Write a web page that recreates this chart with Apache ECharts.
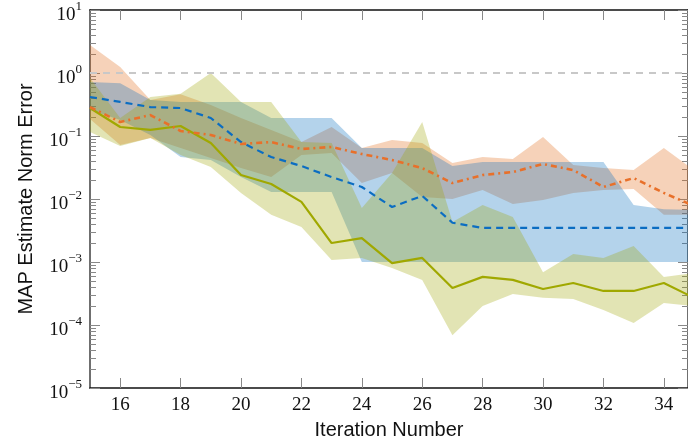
<!DOCTYPE html>
<html>
<head>
<meta charset="utf-8">
<script src="https://cdn.jsdelivr.net/npm/echarts@6/dist/echarts.min.js"></script>
<style>
  html, body { margin: 0; padding: 0; background: #fff; }
  #chart { width: 688px; height: 445px; }
</style>
</head>
<body>
<div id="chart"></div>
<script>
// Iterations on the x axis
const iterations = [15, 16, 17, 18, 19, 20, 21, 22, 23, 24, 25, 26, 27, 28, 29, 30, 31, 32, 33, 34, 35];

// Olive series (solid) with its band
const oliveMean  = [0.278, 0.139, 0.125, 0.144, 0.0775, 0.024, 0.0173, 0.009, 0.002, 0.0024, 0.00096, 0.00116, 0.000386, 0.00058, 0.00052, 0.000373, 0.000464, 0.000347, 0.000347, 0.000464, 0.00027];
const oliveUpper = [0.83, 0.193, 0.416, 0.47, 1.0, 0.347, 0.347, 0.08, 0.0775, 0.0072, 0.0259, 0.167, 0.0043, 0.008, 0.0052, 0.00069, 0.00134, 0.00116, 0.00179, 0.00058, 0.00067];
const oliveLower = [0.116, 0.0694, 0.093, 0.05, 0.0322, 0.0125, 0.0056, 0.0036, 0.00108, 0.00116, 0.0008, 0.00052, 0.000069, 0.0002, 0.00031, 0.00027, 0.000259, 0.000173, 0.000108, 0.000223, 0.0002];

// Blue series (dashed) with its band
const blueMean  = [0.416, 0.347, 0.288, 0.278, 0.193, 0.08, 0.0464, 0.0334, 0.0223, 0.0155, 0.00747, 0.0112, 0.0042, 0.00347, 0.00347, 0.00347, 0.00347, 0.00347, 0.00347, 0.00347, 0.00347];
const blueUpper = [0.72, 0.69, 0.373, 0.347, 0.347, 0.347, 0.193, 0.193, 0.193, 0.0645, 0.0645, 0.0645, 0.0334, 0.0387, 0.0387, 0.0387, 0.0387, 0.0387, 0.008, 0.0069, 0.0067];
const blueLower = [0.259, 0.179, 0.104, 0.0464, 0.0416, 0.0223, 0.0129, 0.0129, 0.0129, 0.001, 0.001, 0.001, 0.001, 0.001, 0.001, 0.001, 0.001, 0.001, 0.001, 0.001, 0.001];

// Orange series (dash-dot) with its band
const orangeMean  = [0.288, 0.167, 0.215, 0.12, 0.104, 0.0747, 0.08, 0.0622, 0.0669, 0.0518, 0.0416, 0.031, 0.0179, 0.024, 0.0268, 0.0359, 0.0288, 0.0155, 0.0215, 0.0125, 0.00775];
const orangeUpper = [2.78, 1.25, 0.373, 0.46, 0.31, 0.193, 0.125, 0.08, 0.139, 0.0645, 0.0865, 0.0775, 0.0373, 0.0464, 0.0432, 0.0964, 0.0347, 0.031, 0.0288, 0.0645, 0.0288];
const orangeLower = [0.186, 0.072, 0.093, 0.0645, 0.0448, 0.031, 0.0223, 0.05, 0.0537, 0.0179, 0.0259, 0.0108, 0.01, 0.0139, 0.0083, 0.0096, 0.0125, 0.0139, 0.0144, 0.0056, 0.0056];

// Reference level (gray dashed)
const referenceLevel = 1;

// Tick values
const xTickValues = [16, 18, 20, 22, 24, 26, 28, 30, 32, 34];
const yMajorTicks = [1e-5, 1e-4, 1e-3, 1e-2, 1e-1, 1, 10];
const yMinorTicks = [];
for (let e = -5; e < 1; e++) {
    for (let m = 2; m <= 9; m++) yMinorTicks.push(m * Math.pow(10, e));
}

const serif = 'Liberation Serif';
const sans = 'Liberation Sans';

// Band drawn as one polygon through the axes' scales
function band(upper, lower, color) {
    return {
        type: 'custom',
        clip: true,
        silent: true,
        z: 1,
        data: iterations.map((x, i) => [x, upper[i], lower[i]]),
        encode: { x: 0, y: [1, 2] },
        renderItem: function (params, api) {
            if (params.dataIndex !== 0) return;
            const pts = [];
            iterations.forEach((x, i) => pts.push(api.coord([x, upper[i]])));
            for (let i = iterations.length - 1; i >= 0; i--) {
                pts.push(api.coord([iterations[i], lower[i]]));
            }
            return { type: 'polygon', shape: { points: pts }, style: { fill: color } };
        }
    };
}

function meanLine(values, color, dash, width) {
    return {
        type: 'line',
        data: iterations.map((x, i) => [x, values[i]]),
        showSymbol: false,
        symbol: 'none',
        clip: true,
        z: 3,
        lineStyle: { color: color, width: width, type: dash },
        silent: true
    };
}

function logAxis(position, ticks, len, withLabels) {
    return {
        type: 'log',
        logBase: 10,
        position: position,
        min: 1e-5,
        max: 10,
        axisLine: { show: true, lineStyle: { color: '#666', width: 1.5 } },
        axisTick: { show: true, inside: true, length: len, customValues: ticks, lineStyle: { color: '#888', width: 1 } },
        axisLabel: withLabels ? {
            show: true,
            margin: 8,
            customValues: yMajorTicks,
            formatter: function (v) {
                const e = Math.round(Math.log10(v));
                return '{b|10}{s|' + (e < 0 ? '\u2212' + (-e) : e) + '}';
            },
            rich: {
                b: { fontFamily: serif, fontSize: 19, color: '#111', lineHeight: 30, verticalAlign: 'bottom' },
                s: { fontFamily: serif, fontSize: 13, color: '#111', verticalAlign: 'top', padding: [5, 0, 0, 0] }
            }
        } : { show: false },
        splitLine: { show: false },
        minorTick: { show: false }
    };
}

const chart = echarts.init(document.getElementById('chart'), null, { renderer: 'canvas' });

const option = {
    animation: false,
    backgroundColor: '#fff',
    grid: { left: 90, right: 0, top: 10, bottom: 57, containLabel: false },
    xAxis: [{
        type: 'value',
        min: 15,
        max: 34.8,
        position: 'bottom',
        name: 'Iteration Number',
        nameLocation: 'middle',
        nameGap: 32,
        nameTextStyle: { fontFamily: sans, fontSize: 20, color: '#111' },
        axisLine: { show: true, lineStyle: { color: '#111', width: 1.5 } },
        axisTick: { show: true, inside: true, length: 10, customValues: xTickValues, lineStyle: { color: '#888' } },
        axisLabel: { show: true, margin: 8, customValues: xTickValues, fontFamily: serif, fontSize: 19, color: '#111' },
        splitLine: { show: false }
    }, {
        type: 'value',
        min: 15,
        max: 34.8,
        position: 'top',
        axisLine: { show: true, lineStyle: { color: '#111', width: 1.5 } },
        axisTick: { show: true, inside: true, length: 10, customValues: xTickValues, lineStyle: { color: '#888' } },
        axisLabel: { show: false },
        splitLine: { show: false }
    }],
    yAxis: [
        Object.assign(logAxis('left', yMajorTicks, 10, true), {
            name: 'MAP Estimate Norm Error',
            nameLocation: 'middle',
            nameGap: 54,
            nameTextStyle: { fontFamily: sans, fontSize: 20, color: '#111' }
        }),
        logAxis('left', yMinorTicks, 6, false),
        logAxis('right', yMajorTicks, 10, false),
        logAxis('right', yMinorTicks, 6, false)
    ],
    series: [
        band(orangeUpper, orangeLower, 'rgba(225,105,22,0.3)'),
        band(blueUpper, blueLower, 'rgba(5,108,188,0.3)'),
        band(oliveUpper, oliveLower, 'rgba(158,165,5,0.3)'),
        {
            type: 'line',
            data: [],
            silent: true,
            markLine: {
                silent: true,
                symbol: 'none',
                label: { show: false },
                lineStyle: { color: '#c8c8c8', width: 2, type: [7, 6] },
                data: [{ yAxis: referenceLevel }]
            }
        },
        meanLine(oliveMean, '#a0a800', 'solid', 2.2),
        meanLine(blueMean, '#0b6dc2', [7, 5], 2.2),
        meanLine(orangeMean, '#e8702a', [6, 4, 2, 4], 2.6)
    ]
};

chart.setOption(option);
</script>
</body>
</html>
